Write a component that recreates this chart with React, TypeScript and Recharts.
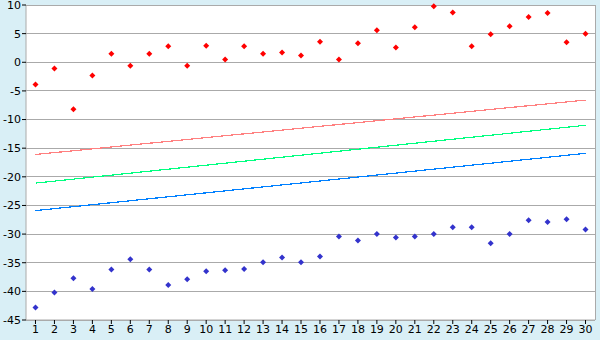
import {
  ComposedChart,
  Scatter,
  Line,
  XAxis,
  YAxis,
  CartesianGrid,
  ReferenceLine,
} from "recharts";

const days = [
  1, 2, 3, 4, 5, 6, 7, 8, 9, 10, 11, 12, 13, 14, 15, 16, 17, 18, 19, 20, 21, 22,
  23, 24, 25, 26, 27, 28, 29, 30,
];

const redValues = [
  -3.9, -1.1, -8.2, -2.3, 1.5, -0.6, 1.5, 2.8, -0.6, 2.9, 0.5, 2.8, 1.5, 1.7,
  1.2, 3.6, 0.5, 3.3, 5.6, 2.6, 6.1, 9.8, 8.7, 2.8, 4.9, 6.3, 7.9, 8.6, 3.5, 5.0,
];

const blueValues = [
  -42.8, -40.2, -37.7, -39.6, -36.2, -34.4, -36.2, -38.9, -37.9, -36.5, -36.3,
  -36.1, -34.9, -34.1, -34.9, -33.9, -30.4, -31.1, -30.0, -30.6, -30.4, -30.0,
  -28.8, -28.8, -31.6, -30.0, -27.6, -27.9, -27.4, -29.2,
];

// straight trend lines: first and last day only
const lineDays = [1, 30];
const redLine = [-16.1, -6.6];
const greenLine = [-21.1, -11.0];
const blueLine = [-25.9, -15.9];

const yTicks = [-45, -40, -35, -30, -25, -20, -15, -10, -5, 0, 5, 10];

const redPoints = days.map((d, i) => ({ x: d, y: redValues[i] }));
const bluePoints = days.map((d, i) => ({ x: d, y: blueValues[i] }));
const toLine = (vals: number[]) => lineDays.map((d, i) => ({ x: d, y: vals[i] }));

const Diamond = (color: string) => (props: any) => {
  const { cx, cy } = props;
  if (cx == null || cy == null) return null;
  return (
    <path
      d={`M${cx},${cy - 3} L${cx + 3},${cy} L${cx},${cy + 3} L${cx - 3},${cy} Z`}
      fill={color}
    />
  );
};

const tickStyle = { fill: "#000", fontSize: 11, fontFamily: "DejaVu Sans" };

export default function App() {
  return (
    <div
      style={{
        position: "fixed",
        left: 0,
        top: 0,
        width: 600,
        height: 340,
        background: "#d9eff6",
      }}
    >
      <ComposedChart
        width={600}
        height={340}
        margin={{ top: 5, right: 5, left: 0, bottom: 0 }}
      >
        <CartesianGrid
          vertical={false}
          stroke="#aaaaaa"
          fill="#ffffff"
          shapeRendering="crispEdges"
        />
        <XAxis
          type="number"
          dataKey="x"
          domain={[0.5, 30.5]}
          ticks={days}
          interval={0}
          height={20}
          tickSize={4}
          tickMargin={1}
          stroke="#aaaaaa"
          tickLine={{ stroke: "#000" }}
          tick={tickStyle}
          allowDuplicatedCategory={false}
        />
        <YAxis
          type="number"
          domain={[-45, 10]}
          ticks={yTicks}
          interval={0}
          width={26}
          tickSize={4}
          tickMargin={1}
          stroke="#aaaaaa"
          tickLine={{ stroke: "#000" }}
          tick={tickStyle}
        />
        <ReferenceLine x={30.5} stroke="#aaaaaa" shapeRendering="crispEdges" />
        <Line
          data={toLine(redLine)}
          dataKey="y"
          stroke="#ff8080"
          strokeWidth={1.2}
          dot={false}
          shapeRendering="crispEdges"
          isAnimationActive={false}
        />
        <Line
          data={toLine(greenLine)}
          dataKey="y"
          stroke="#00ff80"
          strokeWidth={1.2}
          dot={false}
          shapeRendering="crispEdges"
          isAnimationActive={false}
        />
        <Line
          data={toLine(blueLine)}
          dataKey="y"
          stroke="#0080ff"
          strokeWidth={1.2}
          dot={false}
          shapeRendering="crispEdges"
          isAnimationActive={false}
        />
        <Scatter
          data={redPoints}
          dataKey="y"
          shape={Diamond("#ff0000")}
          isAnimationActive={false}
        />
        <Scatter
          data={bluePoints}
          dataKey="y"
          shape={Diamond("#3333cc")}
          isAnimationActive={false}
        />
      </ComposedChart>
    </div>
  );
}
